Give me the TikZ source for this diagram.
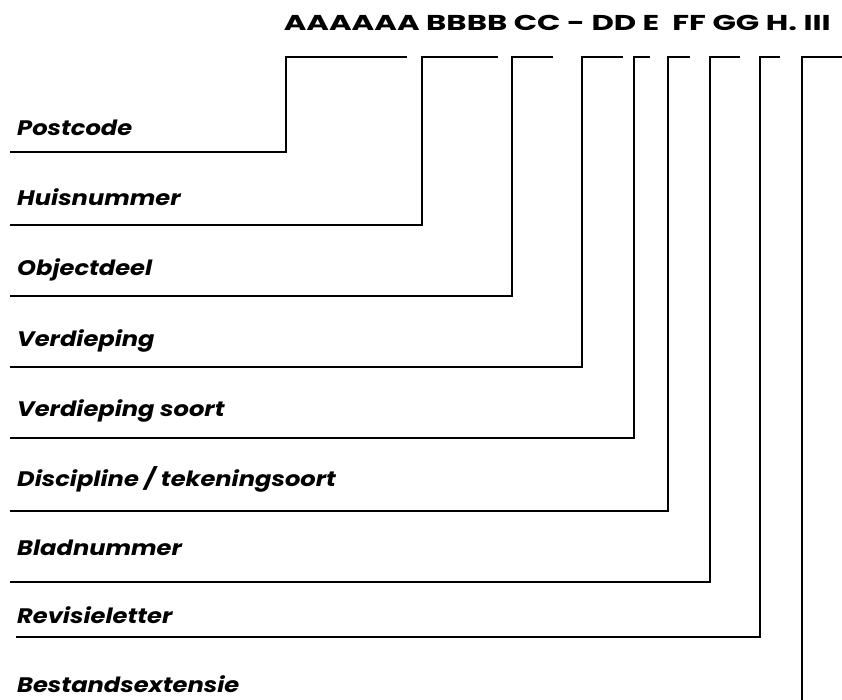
\documentclass[tikz,border=0pt]{standalone}
\usepackage{fontspec}
\setmainfont{Poppins}[BoldFont={* Bold},BoldItalicFont={* Bold Italic},ItalicFont={* Italic}]
\newfontfamily\lblfont{Poppins Bold Italic}[FakeStretch=1.15]
\newfontfamily\hdrfont{Poppins Bold}[FakeStretch=1.43]
\begin{document}
\begin{tikzpicture}[x=1pt,y=-1pt,
  lbl/.style={anchor=base west,inner sep=0pt,font=\lblfont\fontsize{21}{25}\selectfont},
  hdr/.style={anchor=base east,inner sep=0pt,font=\hdrfont\fontsize{21.5}{25}\selectfont},
  conn/.style={line width=1.8pt,line join=miter,line cap=butt}]
\useasboundingbox[fill=white] (0,0) rectangle (842,700);
\node[hdr] (code) at (831,31) {AAAAAA BBBB CC - DD E\ \ FF GG H. III};
% labels
\node[lbl] (l1) at (17,136) {Postcode};
\node[lbl] (l2) at (17,206) {Huisnummer};
\node[lbl] (l3) at (17,276) {Objectdeel};
\node[lbl] (l4) at (17,346) {Verdieping};
\node[lbl] (l5) at (17,416) {Verdieping soort};
\node[lbl] (l6) at (17,486) {Discipline / tekeningsoort};
\node[lbl] (l7) at (17,555) {Bladnummer};
\node[lbl] (l8) at (17,623) {Revisieletter};
\node[lbl] (l9) at (17,692) {Bestandsextensie};
% connector coordinates: top-right end, top corner, bottom corner, left end
\foreach \n/\xv/\xr/\yb/\xl in {1/286/407/152/10, 2/422/498/225/10, 3/512/553/296/10,
  4/582/623/367/10, 5/634/650/438/10, 6/668/690/511/10, 7/710/740/582/10, 8/760/780/637/16}{
  \coordinate (tr\n) at (\xr,57);
  \coordinate (tc\n) at (\xv,57);
  \coordinate (bc\n) at (\xv,\yb);
  \coordinate (le\n) at (\xl,\yb);
}
\coordinate (tr9) at (842,57);
\coordinate (tc9) at (802,57);
\coordinate (bc9) at (802,700);
\foreach \n in {1,...,8}{
  \draw[conn] (tr\n) -- (tc\n) -- (bc\n) -- (le\n);
}
\draw[conn] (tr9) -- (tc9) -- (bc9);
\end{tikzpicture}
\end{document}
